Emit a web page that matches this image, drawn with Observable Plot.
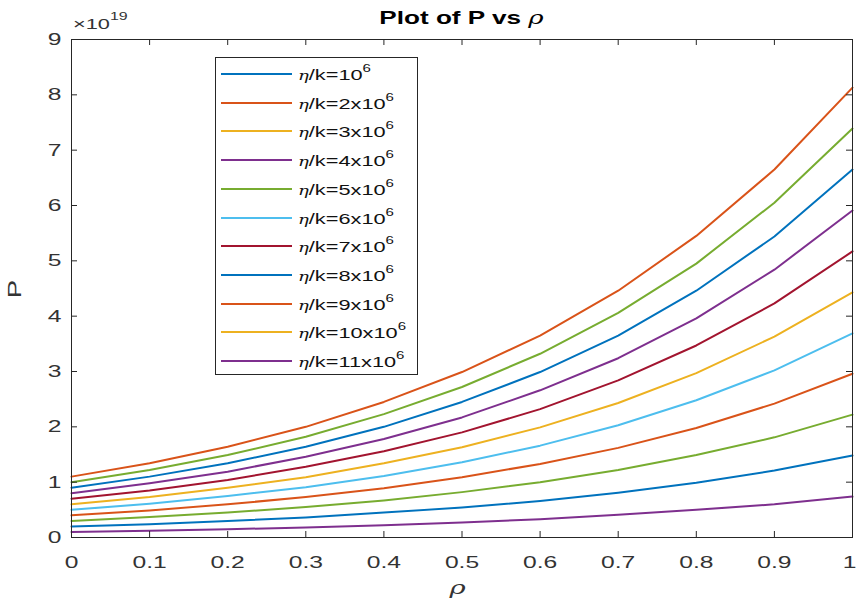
<!DOCTYPE html>
<html>
<head>
<meta charset="utf-8">
<script src="https://cdn.jsdelivr.net/npm/d3@7"></script>
<script src="https://cdn.jsdelivr.net/npm/@observablehq/plot@0.6"></script>
<style>
  body { margin: 0; background: #fff; font-family: "Liberation Sans", Arial, sans-serif; }
  #wrap { position: relative; width: 856px; height: 604px; }
  .ov { position: absolute; color: #333; white-space: nowrap; }
  #legend { position: absolute; left: 215px; top: 57px; width: 203px; height: 318px;
            border: 1px solid #262626; background: #fff; box-sizing: border-box; }
  .row { position: absolute; left: 5px; height: 20px; display: flex; align-items: center; }
  .sw { width: 71px; height: 2px; margin-right: 6px; }
  .lt { font-size: 14.5px; color: #111; display: inline-block; transform: scaleX(1.5); transform-origin: left center; }
  .lt i { font-family: "DejaVu Serif", serif; font-size: 12px; }
  .lt sup { font-size: 10px; position: relative; top: -2px; }
</style>
</head>
<body>
<div id="wrap"></div>
<script>
// x values (rho)
const rho = [0, 0.1, 0.2, 0.3, 0.4, 0.5, 0.6, 0.7, 0.8, 0.9, 1.0];
// P values in units of 1e19, curves from bottom to top
const c1  = [0.10, 0.12, 0.15, 0.18, 0.22, 0.27, 0.33, 0.41, 0.50, 0.60, 0.74];
const c2  = [0.20, 0.24, 0.30, 0.36, 0.45, 0.54, 0.66, 0.81, 0.99, 1.21, 1.48];
const c3  = [0.30, 0.37, 0.45, 0.55, 0.67, 0.82, 1.00, 1.22, 1.49, 1.81, 2.22];
const c4  = [0.40, 0.49, 0.60, 0.73, 0.89, 1.09, 1.33, 1.62, 1.98, 2.42, 2.96];
const c5  = [0.50, 0.61, 0.75, 0.91, 1.11, 1.36, 1.66, 2.03, 2.48, 3.02, 3.69];
const c6  = [0.60, 0.73, 0.90, 1.09, 1.34, 1.63, 1.99, 2.43, 2.97, 3.63, 4.43];
const c7  = [0.70, 0.85, 1.04, 1.28, 1.56, 1.90, 2.32, 2.84, 3.47, 4.23, 5.17];
const c8  = [0.80, 0.98, 1.19, 1.46, 1.78, 2.17, 2.66, 3.24, 3.96, 4.84, 5.91];
const c9  = [0.90, 1.10, 1.34, 1.64, 2.00, 2.45, 2.99, 3.65, 4.46, 5.44, 6.65];
const c10 = [1.00, 1.22, 1.49, 1.82, 2.23, 2.72, 3.32, 4.06, 4.95, 6.05, 7.39];
const c11 = [1.10, 1.34, 1.64, 2.00, 2.45, 2.99, 3.65, 4.46, 5.45, 6.65, 8.13];
const curves = [c1, c2, c3, c4, c5, c6, c7, c8, c9, c10, c11];
// colours of the plotted curves (bottom to top)
const curveColors = ["#7E2F8E", "#0072BD", "#77AC30", "#D95319", "#4DBEEE", "#EDB120",
                     "#A2142F", "#7E2F8E", "#0072BD", "#77AC30", "#D95319"];
// legend entries
const legendMult = ["", "2x", "3x", "4x", "5x", "6x", "7x", "8x", "9x", "10x", "11x"];
const legendColors = ["#0072BD", "#D95319", "#EDB120", "#7E2F8E", "#77AC30", "#4DBEEE",
                      "#A2142F", "#0072BD", "#D95319", "#EDB120", "#7E2F8E"];
const xTicks = [0, 0.1, 0.2, 0.3, 0.4, 0.5, 0.6, 0.7, 0.8, 0.9, 1];
const yTicks = [0, 1, 2, 3, 4, 5, 6, 7, 8, 9];

const rows = [];
curves.forEach((c, i) => c.forEach((v, j) => rows.push({rho: rho[j], P: v, s: i})));

const W = 856, H = 604, mL = 71, mR = 4, mT = 39, mB = 67;
const fw = W - mL - mR, fh = H - mT - mB, tl = 6;
const axc = "#262626";
const SX = 1.45; // horizontal stretch of the reference's lettering

const chart = Plot.plot({
  width: W, height: H,
  marginLeft: mL, marginRight: mR, marginTop: mT, marginBottom: mB,
  style: {fontFamily: "'Liberation Sans', Arial, sans-serif", fontSize: "17px", color: "#333", background: "#fff"},
  x: {domain: [0, 1]},
  y: {domain: [0, 9]},
  marks: [
    Plot.line(rows, {x: "rho", y: "P", z: "s", stroke: d => curveColors[d.s], strokeWidth: 2}),
    Plot.frame({stroke: axc, strokeWidth: 1}),
    Plot.tickX(xTicks, {x: d => d, insetTop: fh - tl, stroke: axc}),
    Plot.tickX(xTicks, {x: d => d, insetBottom: fh - tl, stroke: axc}),
    Plot.tickY(yTicks, {y: d => d, insetRight: fw - tl, stroke: axc}),
    Plot.tickY(yTicks, {y: d => d, insetLeft: fw - tl, stroke: axc}),
    Plot.axisX({ticks: xTicks, tickSize: 0, tickPadding: 18, label: null, tickFormat: d => String(d)}),
    Plot.axisY({ticks: yTicks, tickSize: 0, tickPadding: 10, label: null, tickFormat: d => String(d)})
  ]
});

// stretch tick label lettering horizontally like the reference
d3.select(chart).selectAll("g[aria-label$='tick label'] text").each(function() {
  let t = this.getAttribute("transform");
  if (!t) {
    const x = +this.getAttribute("x") || 0, y = +this.getAttribute("y") || 0;
    this.removeAttribute("x"); this.removeAttribute("y");
    t = `translate(${x},${y})`;
  }
  // keep the last x label ("1") inside the picture
  const shift = this.textContent === "1" && this.closest("g[aria-label='x-axis tick label']") ? " translate(-3,0)" : "";
  this.setAttribute("transform", t + shift + ` scale(${SX},1)`);
});

const wrap = document.getElementById("wrap");
wrap.appendChild(chart);

function ov(html, css) {
  const d = document.createElement("div");
  d.className = "ov";
  d.innerHTML = html;
  Object.assign(d.style, css);
  wrap.appendChild(d);
  return d;
}
ov("Plot of P vs <i style='font-family:\"DejaVu Serif\",serif;font-weight:normal'>ρ</i>",
   {left: "0px", width: (mL * 2 + fw) + "px", textAlign: "center", top: "7px", fontSize: "18px",
    fontWeight: "bold", color: "#000", transform: `scaleX(${SX})`, transformOrigin: "center"});
ov("×10<sup style='font-size:11px;position:relative;top:-3px'>19</sup>",
   {left: "73px", top: "13px", fontSize: "15px", transform: `scaleX(${SX})`, transformOrigin: "left center"});
ov("P", {left: "9px", top: "278px", fontSize: "19px", transform: `rotate(-90deg) scaleX(${SX})`});
ov("<i style='font-family:\"DejaVu Serif\",serif'>ρ</i>",
   {left: (mL + fw / 2 - 10) + "px", top: "576px", fontSize: "19px", transform: `scaleX(${SX})`});

const lg = document.createElement("div");
lg.id = "legend";
legendMult.forEach((m, i) => {
  const r = document.createElement("div");
  r.className = "row";
  r.style.top = (6 + i * 28.7) + "px";
  r.innerHTML = `<div class="sw" style="background:${legendColors[i]}"></div><span class="lt"><i>η</i>/k=${m}10<sup>6</sup></span>`;
  lg.appendChild(r);
});
wrap.appendChild(lg);
</script>
</body>
</html>
